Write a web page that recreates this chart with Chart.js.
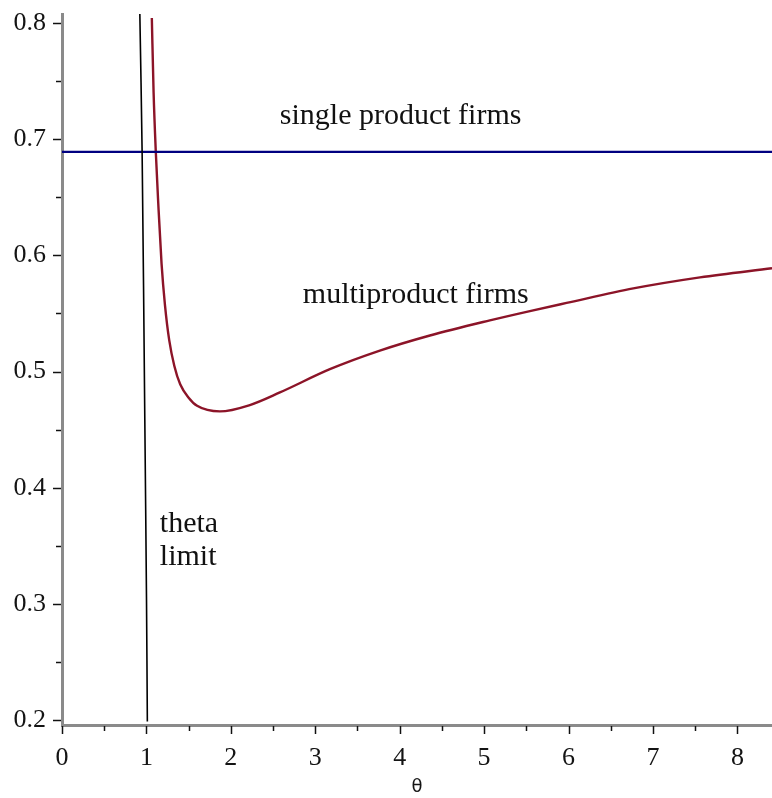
<!DOCTYPE html>
<html>
<head>
<meta charset="utf-8">
<script src="https://cdn.jsdelivr.net/npm/chart.js@4.4.1/dist/chart.umd.min.js"></script>
<style>
  html, body { margin: 0; padding: 0; background: #fff; }
  #wrap { width: 772px; height: 798px; }
</style>
</head>
<body>
<div id="wrap"><canvas id="chart" width="772" height="798"></canvas></div>
<script>
// Data
const multiX = [1.064, 1.085, 1.111, 1.14, 1.179, 1.22, 1.27, 1.33, 1.40, 1.50, 1.60, 1.87, 2.225, 2.581, 3.173, 3.765, 4.358, 5.068, 5.542, 5.977, 6.767, 7.557, 8.41];
const multiY = [0.804, 0.740, 0.689, 0.645, 0.593, 0.557, 0.527, 0.505, 0.489, 0.4775, 0.4705, 0.4657, 0.4712, 0.482, 0.502, 0.518, 0.531, 0.544, 0.552, 0.559, 0.5715, 0.581, 0.5888];
const singleX = [0, 8.41];
const singleY = [0.689, 0.689];
const thetaX = [0.922, 0.949, 0.981, 1.001, 1.011];
const thetaY = [0.8075, 0.689, 0.4584, 0.3036, 0.199];

const xTicks = [0, 1, 2, 3, 4, 5, 6, 7, 8];
const yTicks = [0.2, 0.3, 0.4, 0.5, 0.6, 0.7, 0.8];

// text labels inside the plot, placed in data units
const notes = [
  { text: 'single product firms', x: 2.58, y: 0.713 },
  { text: 'multiproduct firms', x: 2.853, y: 0.559 },
  { text: 'theta', x: 1.159, y: 0.362 },
  { text: 'limit', x: 1.159, y: 0.334 },
];

const pts = (xs, ys) => xs.map((x, i) => ({ x: x, y: ys[i] }));

const serif = "'Liberation Serif', 'Times New Roman', serif";

// minor/major tick marks + annotations
const decor = {
  id: 'decor',
  afterDraw(chart) {
    const ctx = chart.ctx;
    const xs = chart.scales.x, ys = chart.scales.y;
    const area = chart.chartArea;
    ctx.save();
    ctx.strokeStyle = '#111';
    ctx.lineWidth = 1.5;
    const axisY = area.bottom + 1;
    for (let v = 0; v <= 8.4; v += 0.5) {
      const px = Math.round(xs.getPixelForValue(v)) + 0.5;
      const len = Number.isInteger(v) ? 8 : 5;
      ctx.beginPath();
      ctx.moveTo(px, axisY);
      ctx.lineTo(px, axisY + len);
      ctx.stroke();
    }
    const axisX = area.left - 1;
    for (let k = 4; k <= 16; k++) {
      const v = k * 0.05;
      const py = Math.round(ys.getPixelForValue(v)) + 0.5;
      const len = k % 2 === 0 ? 8 : 5;
      ctx.beginPath();
      ctx.moveTo(axisX, py);
      ctx.lineTo(axisX - len, py);
      ctx.stroke();
    }
    ctx.fillStyle = '#111';
    ctx.font = '30px ' + serif;
    ctx.textBaseline = 'alphabetic';
    ctx.textAlign = 'left';
    notes.forEach(n => {
      ctx.fillText(n.text, xs.getPixelForValue(n.x), ys.getPixelForValue(n.y));
    });
    ctx.restore();
  }
};

new Chart(document.getElementById('chart'), {
  type: 'scatter',
  data: {
    datasets: [
      {
        label: 'theta limit',
        data: pts(thetaX, thetaY),
        showLine: true,
        borderColor: '#000',
        borderWidth: 1.6,
        pointRadius: 0,
        tension: 0.3,
      },
      {
        label: 'single product firms',
        data: pts(singleX, singleY),
        showLine: true,
        borderColor: '#000080',
        borderWidth: 2.2,
        pointRadius: 0,
      },
      {
        label: 'multiproduct firms',
        data: pts(multiX, multiY),
        showLine: true,
        borderColor: '#8c1428',
        borderWidth: 2.4,
        pointRadius: 0,
        cubicInterpolationMode: 'monotone',
      },
    ]
  },
  options: {
    responsive: false,
    animation: false,
    layout: { padding: { top: 14, right: 0, left: 0, bottom: 0 } },
    plugins: {
      legend: { display: false },
      tooltip: { enabled: false },
    },
    scales: {
      x: {
        type: 'linear',
        min: 0,
        max: 8.41,
        afterBuildTicks: s => { s.ticks = xTicks.map(v => ({ value: v })); },
        afterFit: s => { s.height = 73; s.paddingLeft = 0; s.paddingRight = 0; },
        grid: { display: false, drawTicks: false },
        border: { display: true, color: '#8a8a8a', width: 3 },
        ticks: {
          padding: 18,
          color: '#141414',
          font: { family: serif, size: 26 },
          maxRotation: 0,
        },
        title: {
          display: true,
          text: 'θ',
          color: '#141414',
          font: { family: "'DejaVu Sans', sans-serif", size: 18 },
          padding: { top: 0, bottom: 0 },
        },
      },
      y: {
        type: 'linear',
        min: 0.196,
        max: 0.8075,
        afterBuildTicks: s => { s.ticks = yTicks.map(v => ({ value: v })); },
        afterFit: s => { s.width = 62; s.paddingTop = 0; s.paddingBottom = 0; },
        grid: { display: false, drawTicks: false },
        border: { display: true, color: '#8a8a8a', width: 3 },
        ticks: {
          padding: 16,
          color: '#141414',
          font: { family: serif, size: 26 },
          callback: v => v.toFixed(1),
        },
      },
    },
  },
  plugins: [decor],
});
</script>
</body>
</html>
